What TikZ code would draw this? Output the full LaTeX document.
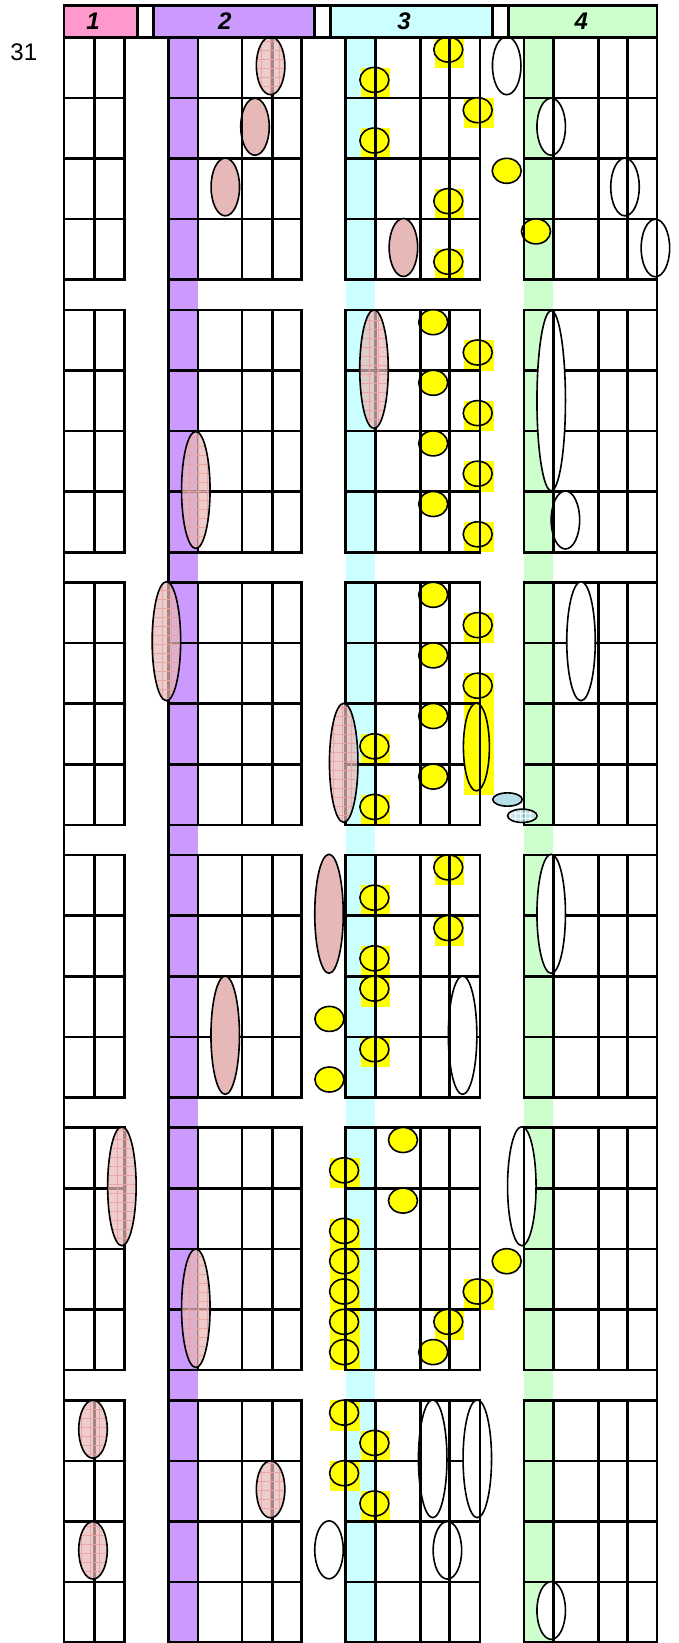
\documentclass[tikz,border=0pt]{standalone}
\usepackage{fontspec}
\setmainfont{Liberation Sans}
\usetikzlibrary{shapes.geometric,patterns.meta}
\definecolor{cone}{HTML}{FF99CC}
\definecolor{ctwo}{HTML}{CC99FF}
\definecolor{cthree}{HTML}{CCFFFF}
\definecolor{cfour}{HTML}{CCFFCC}
\definecolor{cblush}{HTML}{E6B9B8}
\definecolor{cgridpink}{HTML}{EBA3A3}
\definecolor{csky}{HTML}{B7DDE8}
\definecolor{cyel}{HTML}{FFFF00}
\tikzset{
  gridline/.style={line width=2.7pt, line cap=rect},
  blob/.style={ellipse, draw=black, line width=1.6pt, inner sep=0pt, minimum width=28.5pt},
  blush/.style={blob, fill=cblush},
  hatched/.style={blob, preaction={fill=cblush, fill opacity=0.72}, fill opacity=0.6,
    pattern={Hatch[angle=0,distance=9pt,line width=0.5pt]}, pattern color=cgridpink},
  hollow/.style={blob, fill=white},
  coin/.style={blob, fill=cyel, minimum width=29pt, minimum height=25pt},
  coinbg/.style={rectangle, fill=cyel, inner sep=0pt, minimum width=29.6pt, minimum height=30.3pt},
  puck/.style={blob, fill=csky, minimum width=29.5pt, minimum height=13.3pt},
  skyhatched/.style={puck, fill=none, preaction={fill=csky, fill opacity=0.8}, fill opacity=0.8,
    pattern={Hatch[angle=0,distance=5pt,line width=0.5pt]}, pattern color=white},
  hdr/.style={font=\fontsize{24}{24}\selectfont\bfseries\itshape},
}
% cx/block/slot/square
\newcommand\coinlist{448.3/0/0/1, 374.4/0/1/1, 477.7/0/2/1, 374.4/0/3/1, 506.7/0/4/0, 448.3/0/5/1, 536/0/6/0, 448.3/0/7/1,
  433.2/1/0/0, 477.7/1/1/1, 433.2/1/2/0, 477.7/1/3/1, 433.2/1/4/0, 477.7/1/5/1, 433.2/1/6/0, 477.7/1/7/1,
  433.2/2/0/0, 477.7/2/1/1, 433.2/2/2/0, 477.7/2/3/1, 433.2/2/4/0, 374.4/2/5/1, 433.2/2/6/0, 374.4/2/7/1,
  448.3/3/0/1, 374.4/3/1/1, 448.3/3/2/1, 374.4/3/3/1, 374.4/3/4/1, 329.4/3/5/0, 374.4/3/6/1, 329.4/3/7/0,
  403/4/0/0, 344.1/4/1/1, 403/4/2/0, 344.1/4/3/1, 344.1/4/4/1, 506.7/4/4/0, 344.1/4/5/1, 477.7/4/5/1,
  344.1/4/6/1, 448.3/4/6/1, 344.1/4/7/1, 433.2/4/7/0,
  344.1/5/0/1, 374.4/5/1/1, 344.1/5/2/1, 374.4/5/3/1}

\begin{document}
\begin{tikzpicture}[x=1pt,y=-1pt]
\useasboundingbox (0,0) rectangle (679,1643);
% column bands
\fill[ctwo] (168.6,37.3) rectangle (198,1643);
\fill[cthree] (345.8,37.3) rectangle (375.2,1643);
\fill[cfour] (524,37.3) rectangle (553.3,1643);
% yellow cells
\foreach \cx/\b/\s/\q [count=\i] in \coinlist {
  \ifnum\q=1
    \node[coinbg] (sq\i) at (\cx+1,{37.3+272.6*\b+30.3*\s+15.15}) {};
  \fi
}
\foreach \s [count=\i] in {4,5,6}
  \node[coinbg] (sqx\i) at (478.7,{37.3+272.6*2+30.3*\s+15.15}) {};
% row rules
\foreach \b in {0,...,5}{
  \foreach \r in {0,...,4}{
    \pgfmathsetmacro\yy{37.3+272.6*\b+60.6*\r}
    \foreach \xa/\xb in {64/124.5, 168.6/301.8, 345.8/479.9, 524/657.1}
      \draw[gridline] (\xa,\yy) -- (\xb,\yy);
  }
}
% opaque marks
\foreach \cx/\cy/\h [count=\i] in {506.7/65.7/58, 551.2/126.7/57, 625/187/57.7, 655.4/248/57.5, 551.2/400.7/180,
    565.4/520/58, 581/641.2/119, 551.2/913.8/119, 462.6/1035.2/118.3, 521.8/1186.2/119, 432.7/1458.8/117.7,
    477.3/1458.8/117.7, 329/1549.8/58, 447.4/1550.3/57.5, 551.2/1610.5/57.7}
  \node[hollow, minimum height=\h] (w\i) at (\cx,\cy) {};
\foreach \cx/\cy/\h [count=\i] in {255/126.7/57, 225.3/187/57.7, 403.4/247.5/58, 329/913.8/119, 225.2/1035.2/118.3}
  \node[blush, minimum height=\h] (pk\i) at (\cx,\cy) {};
\foreach \cx/\b/\s/\q [count=\i] in \coinlist
  \node[coin] (c\i) at (\cx,{37.3+272.6*\b+30.3*\s+12.3}) {};
\node[blob, fill=cyel, minimum width=26pt, minimum height=87.7pt] (tallcoin) at (476.4,747) {};
\node[puck] (pu1) at (507.5,799.5) {};
% column rules
\foreach \b in {0,...,5}{
  \pgfmathsetmacro\ya{37.3+272.6*\b}
  \pgfmathsetmacro\yb{\ya+242.4}
  \foreach \x in {94.2,124.5,198,242,272.3,301.8,345.8,375.2,420.2,449.6,479.9,524,553.3,598.3,627.7}
    \draw[gridline] (\x,\ya) -- (\x,\yb);
}
\foreach \x in {64,168.6,657.1}
  \draw[gridline] (\x,37.3) -- (\x,1643);
% see-through marks
\foreach \cx/\cy/\h [count=\i] in {270.6/65.7/58, 195.8/490/117, 374/369.2/118.5, 166.4/641.2/119, 343.7/762.8/119,
    121.9/1186.2/119, 195.8/1308.2/118.5, 93/1429.2/58, 93/1550.3/57.5, 270.6/1489.3/57}
  \node[hatched, minimum height=\h] (ht\i) at (\cx,\cy) {};
\node[skyhatched] (pu2) at (522.3,815.8) {};
% header
\foreach \xa/\xb/\c/\l/\lx in {64/137.5/cone/1/93, 153.5/314.7/ctwo/2/224.8, 330.7/492.8/cthree/3/404, 508.8/657.1/cfour/4/581.4}{
  \fill[\c] (\xa,5.5) rectangle (\xb,37.3);
  \draw[gridline] (\xa,5.5) rectangle (\xb,37.3);
  \node[hdr] (hd\l) at (\lx,21.6) {\l};
}
\draw[gridline] (64,5.5) rectangle (657.1,37.3);
\node[font=\fontsize{24}{24}\selectfont] (rowno) at (23.8,52.3) {31};
\end{tikzpicture}
\end{document}
